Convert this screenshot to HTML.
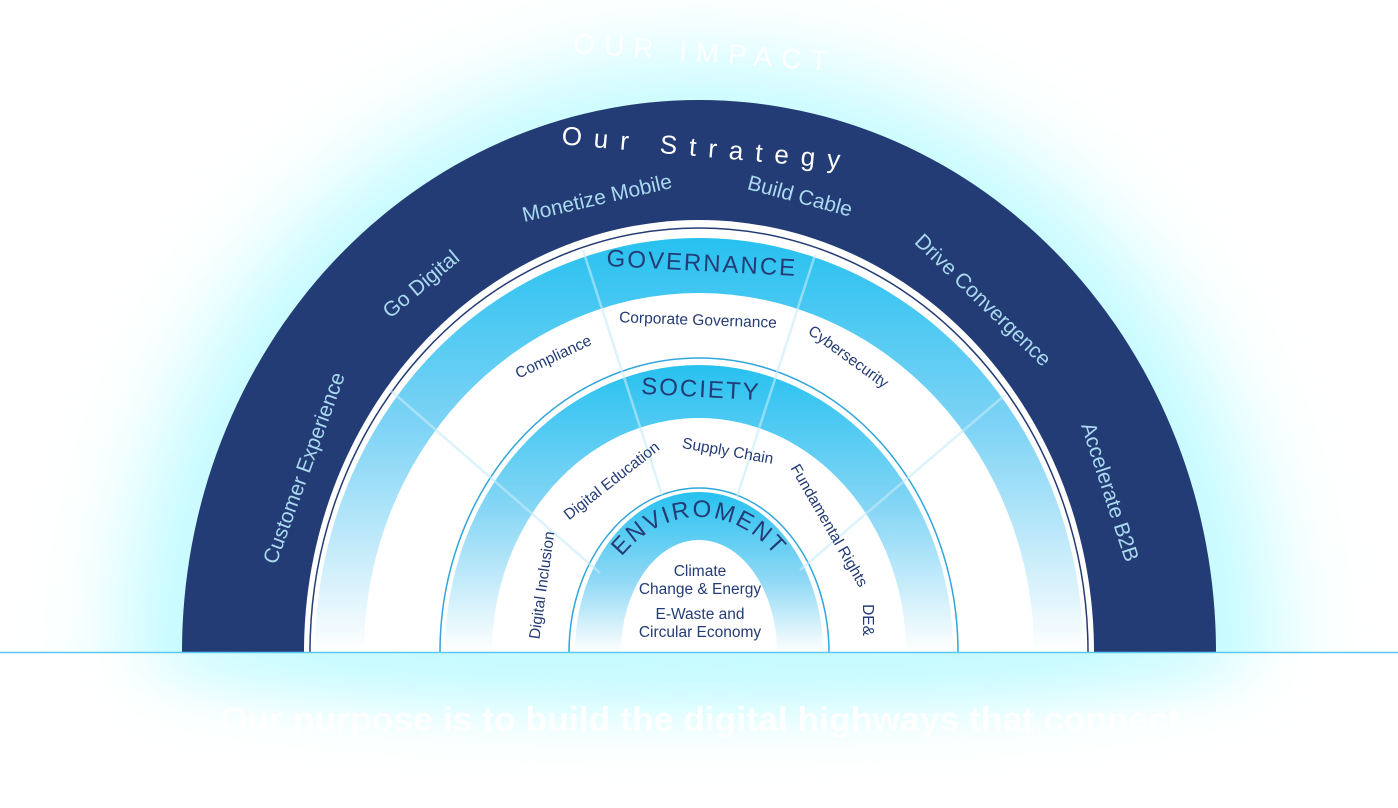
<!DOCTYPE html>
<html><head><meta charset="utf-8"><style>
html,body{margin:0;padding:0;background:#fff;width:1398px;height:808px;overflow:hidden}
svg{display:block}
text{font-family:"Liberation Sans",sans-serif}
</style></head><body>
<svg width="1398" height="808" viewBox="0 0 1398 808" xmlns="http://www.w3.org/2000/svg">
<defs>
<filter id="blur" x="-30%" y="-30%" width="160%" height="160%"><feGaussianBlur stdDeviation="45"/></filter>
<filter id="blur2" x="-30%" y="-100%" width="160%" height="300%"><feGaussianBlur stdDeviation="30"/></filter>
<linearGradient id="g1" x1="0" y1="238" x2="0" y2="652" gradientUnits="userSpaceOnUse"><stop offset="0" stop-color="#27c1f0"/><stop offset="0.45" stop-color="#7dd3f5"/><stop offset="1" stop-color="#ffffff"/></linearGradient>
<linearGradient id="g2" x1="0" y1="365" x2="0" y2="652" gradientUnits="userSpaceOnUse"><stop offset="0" stop-color="#27c1f0"/><stop offset="0.5" stop-color="#86d6f5"/><stop offset="1" stop-color="#ffffff"/></linearGradient>
<linearGradient id="g3" x1="0" y1="492" x2="0" y2="652" gradientUnits="userSpaceOnUse"><stop offset="0" stop-color="#27c1f0"/><stop offset="0.55" stop-color="#8fd8f5"/><stop offset="1" stop-color="#ffffff"/></linearGradient>
<clipPath id="top"><rect x="0" y="0" width="1398" height="652"/></clipPath>
<clipPath id="bot"><rect x="0" y="652" width="1398" height="156"/></clipPath>
<path id="envArc" d="M 590 652 A 109 135 0 0 1 808 652"/>
</defs>
<rect width="1398" height="808" fill="#fff"/>
<g clip-path="url(#top)"><g filter="url(#blur)">
<ellipse cx="699" cy="660" rx="575" ry="600" fill="#c2fbff"/>
</g></g>
<g clip-path="url(#bot)"><g filter="url(#blur2)">
<ellipse cx="699" cy="652" rx="560" ry="60" fill="#c4fbff"/>
</g></g>
<text x="705" y="62" font-size="28" fill="#ffffff" text-anchor="middle" letter-spacing="9" opacity="0.9" transform="rotate(4 705 52)">OUR IMPACT</text>
<g clip-path="url(#top)">
<ellipse cx="699" cy="652" rx="517" ry="552" fill="#243c75"/>
<ellipse cx="699" cy="652" rx="395" ry="432" fill="#ffffff"/>
<ellipse cx="699" cy="652" rx="389" ry="424" fill="none" stroke="#243c75" stroke-width="1.5"/>
<ellipse cx="699" cy="652" rx="384" ry="414" fill="url(#g1)"/>
<ellipse cx="699" cy="652" rx="335" ry="359" fill="#ffffff"/>
<ellipse cx="699" cy="652" rx="259" ry="294" fill="none" stroke="#2fa6dc" stroke-width="1.5"/>
<ellipse cx="699" cy="652" rx="254" ry="287" fill="url(#g2)"/>
<ellipse cx="699" cy="652" rx="207" ry="234" fill="#ffffff"/>
<ellipse cx="699" cy="652" rx="130" ry="164" fill="none" stroke="#2fa6dc" stroke-width="1.5"/>
<ellipse cx="699" cy="652" rx="124" ry="160" fill="url(#g3)"/>
<ellipse cx="699" cy="652" rx="78" ry="112" fill="#ffffff"/>
<g stroke="#c8ecfa" stroke-width="2.5" opacity="0.6">
<line x1="390" y1="390" x2="600" y2="573"/>
<line x1="583" y1="250" x2="662" y2="495"/>
<line x1="815" y1="255" x2="737" y2="497"/>
<line x1="1005" y1="395" x2="800" y2="570"/>
</g>
</g>
<line x1="0" y1="652.5" x2="1398" y2="652.5" stroke="#5cc8ef" stroke-width="1.5"/>
<text x="707" y="157" fill="#ffffff" font-size="26" text-anchor="middle" letter-spacing="12" transform="rotate(5 707 148)">Our Strategy</text>
<g fill="#a9d9ef" font-size="21" text-anchor="middle">
<text x="597" y="205" transform="rotate(-13 597 198)">Monetize Mobile</text>
<text x="800" y="203" transform="rotate(15 800 196)">Build Cable</text>
<text x="421" y="291" transform="rotate(-40 421 284)">Go Digital</text>
<text x="983" y="307" transform="rotate(44 983 300)">Drive Convergence</text>
<text x="304" y="475" transform="rotate(-70 304 468)">Customer Experience</text>
<text x="1110" y="499" transform="rotate(72 1110 492)">Accelerate B2B</text>
</g>
<g fill="#243c75" text-anchor="middle">
<text x="702" y="271" font-size="24" letter-spacing="2" transform="rotate(3 702 262)">GOVERNANCE</text>
<text x="701" y="397" font-size="24" letter-spacing="2" transform="rotate(3 701 388)">SOCIETY</text>
<text font-size="24" letter-spacing="2"><textPath href="#envArc" startOffset="50%">ENVIROMENT</textPath></text>
</g>
<g fill="#243c75" font-size="15.5" text-anchor="middle">
<text x="698" y="325" transform="rotate(2 698 319)">Corporate Governance</text>
<text x="553" y="362" transform="rotate(-25 553 356)">Compliance</text>
<text x="849" y="362" transform="rotate(36 849 356)">Cybersecurity</text>
<text x="728" y="456" transform="rotate(10 728 450)">Supply Chain</text>
<text x="611" y="486" transform="rotate(-38 611 480)">Digital Education</text>
<text x="830" y="531" transform="rotate(60 830 525)">Fundamental Rights</text>
<text x="541" y="591" transform="rotate(-82 541 585)">Digital Inclusion</text>
<text x="869" y="626" transform="rotate(90 869 620)">DE&amp;</text>
<text x="700" y="576">Climate</text>
<text x="700" y="594">Change &amp; Energy</text>
<text x="700" y="619">E-Waste and</text>
<text x="700" y="637">Circular Economy</text>
</g>
<text x="220" y="731" font-size="34" font-weight="bold" fill="#ffffff" textLength="960" lengthAdjust="spacingAndGlyphs" opacity="0.95">Our purpose is to build the digital highways that connect</text>
</svg>
</body></html>
